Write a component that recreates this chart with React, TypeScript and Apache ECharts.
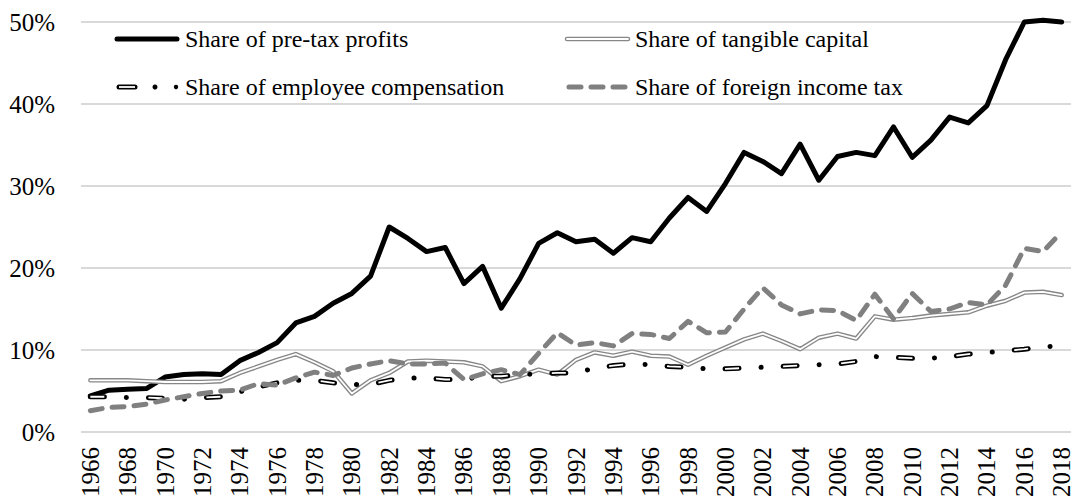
import React, { useEffect, useRef } from "react";
import * as echarts from "echarts";

const years = [
  "1966", "1967", "1968", "1969", "1970", "1971", "1972", "1973", "1974", "1975",
  "1976", "1977", "1978", "1979", "1980", "1981", "1982", "1983", "1984", "1985",
  "1986", "1987", "1988", "1989", "1990", "1991", "1992", "1993", "1994", "1995",
  "1996", "1997", "1998", "1999", "2000", "2001", "2002", "2003", "2004", "2005",
  "2006", "2007", "2008", "2009", "2010", "2011", "2012", "2013", "2014", "2015",
  "2016", "2017", "2018",
];

const profits = [
  4.4, 5.1, 5.2, 5.3, 6.7, 7.0, 7.1, 7.0, 8.7, 9.7,
  10.9, 13.3, 14.1, 15.7, 16.9, 19.0, 25.0, 23.6, 22.0, 22.5,
  18.1, 20.2, 15.1, 18.7, 23.0, 24.3, 23.2, 23.5, 21.8, 23.7,
  23.2, 26.1, 28.6, 26.9, 30.3, 34.1, 33.0, 31.5, 35.1, 30.7,
  33.6, 34.1, 33.7, 37.2, 33.5, 35.6, 38.4, 37.7, 39.8, 45.4,
  50.0, 50.2, 50.0,
];

const tangible = [
  6.3, 6.3, 6.3, 6.2, 6.1, 6.1, 6.1, 6.2, 7.2, 8.0,
  8.8, 9.5, 8.5, 7.4, 4.7, 6.3, 7.2, 8.6, 8.7, 8.6,
  8.5, 8.0, 6.2, 6.8, 7.6, 7.0, 8.8, 9.7, 9.3, 9.8,
  9.3, 9.2, 8.2, 9.3, 10.3, 11.3, 12.0, 11.1, 10.1, 11.5,
  12.0, 11.4, 14.1, 13.7, 13.9, 14.2, 14.4, 14.6, 15.4, 16.0,
  17.0, 17.1, 16.7,
];

const employee = [
  4.3, 4.3, 4.2, 4.2, 4.1, 4.0, 4.2, 4.3, 4.9, 5.5,
  6.0, 6.3, 6.3, 6.0, 5.8, 5.8, 6.3, 6.6, 6.6, 6.4,
  6.4, 6.8, 6.8, 7.0, 7.1, 7.2, 7.2, 7.8, 8.1, 8.3,
  8.2, 8.0, 7.9, 7.7, 7.7, 7.8, 7.9, 8.0, 8.1, 8.2,
  8.3, 8.6, 9.2, 9.1, 9.0, 9.0, 9.2, 9.5, 9.7, 9.9,
  10.1, 10.4, 10.5,
];

const foreignTax = [
  2.6, 3.0, 3.1, 3.4, 3.9, 4.3, 4.7, 5.0, 5.1, 5.9,
  5.7, 6.6, 7.3, 6.9, 7.8, 8.3, 8.7, 8.3, 8.3, 8.4,
  6.4, 7.1, 7.6, 7.0, 9.6, 12.1, 10.6, 10.9, 10.5, 12.0,
  11.9, 11.4, 13.5, 12.1, 12.2, 15.0, 17.6, 15.5, 14.4, 14.9,
  14.8, 13.6, 16.8, 13.8, 16.9, 14.7, 15.0, 15.8, 15.5, 17.9,
  22.4, 22.0, 24.4,
];

const seriesNames = [
  "Share of pre-tax profits",
  "Share of tangible capital",
  "Share of employee compensation",
  "Share of foreign income tax",
];

const FONT = '"Liberation Serif", "Times New Roman", serif';

export default function App() {
  const ref = useRef<HTMLDivElement>(null);

  useEffect(() => {
    if (!ref.current) return;
    const chart = echarts.init(ref.current, undefined, { renderer: "svg" });

    const textStyle = (t: string, x: number, y: number) => ({
      type: "text",
      x,
      y,
      style: {
        text: t,
        font: `24px ${FONT}`,
        fill: "#000",
        textAlign: "left",
        textVerticalAlign: "middle",
        align: "left",
        verticalAlign: "middle",
      },
    });

    const r1 = 39;
    const r2 = 87;

    chart.setOption({
      animation: false,
      backgroundColor: "#fff",
      grid: { left: 81, right: 6, top: 22, bottom: 70, containLabel: false },
      xAxis: {
        type: "category",
        data: years,
        boundaryGap: true,
        axisLine: { show: false },
        axisTick: { show: false },
        splitLine: { show: false },
        axisLabel: {
          interval: 1,
          rotate: 90,
          margin: 15,
          color: "#000",
          fontSize: 25,
          fontFamily: FONT,
        },
      },
      yAxis: {
        type: "value",
        min: 0,
        max: 50,
        interval: 10,
        axisLine: { show: false },
        axisTick: { show: false },
        splitLine: { lineStyle: { color: "#d9d9d9", width: 2 } },
        axisLabel: {
          formatter: "{value}%",
          margin: 26,
          color: "#000",
          fontSize: 25,
          fontFamily: FONT,
        },
      },
      series: [
        {
          name: seriesNames[0],
          type: "line",
          data: profits,
          symbol: "none",
          clip: false,
          z: 2,
          lineStyle: { color: "#000", width: 5, cap: "round", join: "round" },
        },
        {
          name: seriesNames[1],
          type: "line",
          data: tangible,
          symbol: "none",
          clip: false,
          z: 3,
          lineStyle: { color: "#878787", width: 4.5, cap: "round", join: "round" },
        },
        {
          name: seriesNames[1] + " inner",
          type: "line",
          data: tangible,
          symbol: "none",
          clip: false,
          z: 3,
          lineStyle: { color: "#ffffff", width: 1.8, cap: "round", join: "round" },
        },
        {
          name: seriesNames[2],
          type: "line",
          data: employee,
          symbol: "none",
          clip: false,
          z: 4,
          lineStyle: {
            color: "#000",
            width: 5,
            type: [14, 22, 0.1, 22],
            cap: "round",
            join: "round",
          },
        },
        {
          name: seriesNames[2] + " inner",
          type: "line",
          data: employee,
          symbol: "none",
          clip: false,
          z: 4,
          lineStyle: {
            color: "#ffffff",
            width: 1.8,
            type: [14, 44.1],
            cap: "butt",
            join: "round",
          },
        },
        {
          name: seriesNames[3],
          type: "line",
          data: foreignTax,
          symbol: "none",
          clip: false,
          z: 5,
          lineStyle: {
            color: "#808080",
            width: 5,
            type: [12, 10],
            cap: "round",
            join: "round",
          },
        },
      ],
      graphic: [
        {
          type: "line",
          shape: { x1: 117, y1: r1, x2: 177, y2: r1 },
          style: { stroke: "#000", lineWidth: 5, lineCap: "round" },
        },
        textStyle(seriesNames[0], 185, r1),
        {
          type: "line",
          shape: { x1: 567, y1: r1, x2: 628, y2: r1 },
          style: { stroke: "#878787", lineWidth: 4.5, lineCap: "round" },
        },
        {
          type: "line",
          shape: { x1: 567, y1: r1, x2: 628, y2: r1 },
          style: { stroke: "#fff", lineWidth: 1.8, lineCap: "round" },
        },
        textStyle(seriesNames[1], 635, r1),
        {
          type: "line",
          shape: { x1: 119, y1: r2, x2: 135, y2: r2 },
          style: { stroke: "#000", lineWidth: 5, lineCap: "round" },
        },
        {
          type: "line",
          shape: { x1: 119, y1: r2, x2: 135, y2: r2 },
          style: { stroke: "#fff", lineWidth: 1.8, lineCap: "butt" },
        },
        {
          type: "circle",
          shape: { cx: 155, cy: r2, r: 2.5 },
          style: { fill: "#000" },
        },
        {
          type: "circle",
          shape: { cx: 176, cy: r2, r: 2.2 },
          style: { fill: "#000" },
        },
        textStyle(seriesNames[2], 185, r2),
        {
          type: "line",
          shape: { x1: 569, y1: r2, x2: 625, y2: r2 },
          style: { stroke: "#808080", lineWidth: 5, lineCap: "round", lineDash: [12, 10] },
        },
        textStyle(seriesNames[3], 635, r2),
      ],
    });

    return () => chart.dispose();
  }, []);

  return (
    <div
      ref={ref}
      style={{ position: "fixed", left: 0, top: 0, width: 1077, height: 502, background: "#fff" }}
    />
  );
}
